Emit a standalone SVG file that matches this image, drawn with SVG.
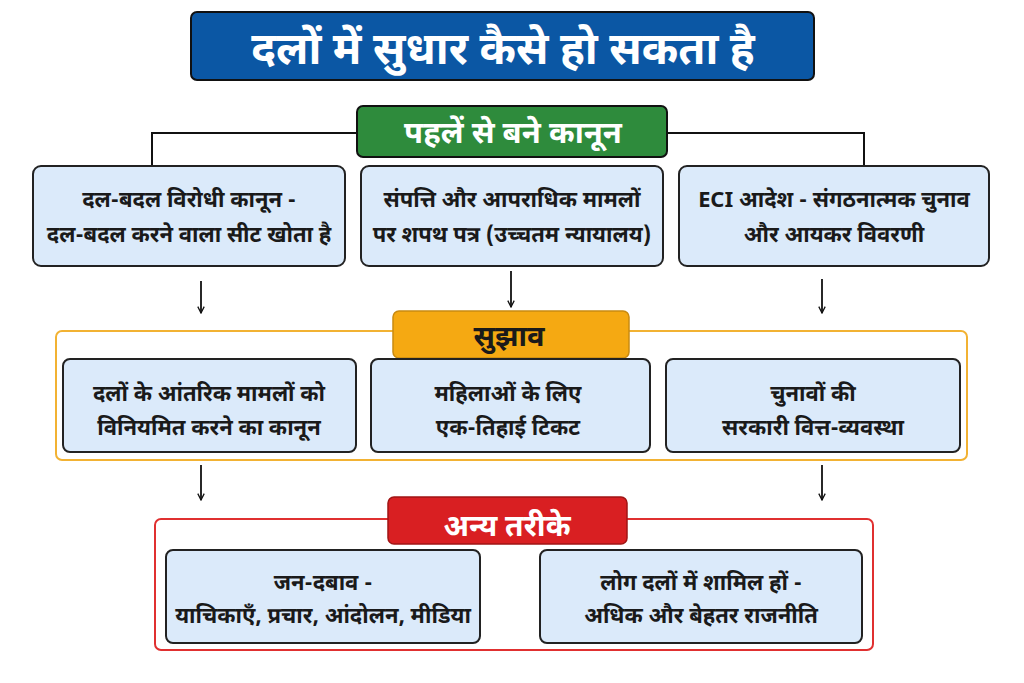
<svg xmlns="http://www.w3.org/2000/svg" width="1024" height="683" viewBox="0 0 1024 683">
<defs>
<marker id="arr" viewBox="0 0 10 10" refX="9" refY="5" markerWidth="8" markerHeight="8" orient="auto" markerUnits="userSpaceOnUse">
<path d="M1,1 L9,5 L1,9" fill="none" stroke="#111" stroke-width="1.6"/>
</marker>
<style>
text{font-family:"Noto Sans Devanagari","Noto Sans","Lohit Devanagari","Liberation Sans",sans-serif;text-anchor:middle;font-weight:bold}
.box{fill:#dbeafa;stroke:#222;stroke-width:2}
.bt{font-size:22px;fill:#1a1a1a}
.conn{stroke:#111;stroke-width:2;fill:none}
.arr{stroke:#111;stroke-width:1.8;fill:none;marker-end:url(#arr)}
</style>
</defs>
<rect width="1024" height="683" fill="#fff"/>
<g id="connectors">
<polyline class="conn" points="358,133 152,133 152,166"/>
<polyline class="conn" points="666,133 864,133 864,166"/>
<line class="arr" x1="201" y1="281" x2="201" y2="313"/>
<line class="arr" x1="511" y1="271" x2="511" y2="307"/>
<line class="arr" x1="822" y1="279" x2="822" y2="313"/>
<line class="arr" x1="201" y1="465" x2="201" y2="500"/>
<line class="arr" x1="822" y1="465" x2="822" y2="500"/>
</g>
<g id="title">
<rect x="191" y="12" width="623" height="68" rx="6" fill="#0b57a4" stroke="#111" stroke-width="2"/>
<text x="503" y="64" font-size="44" fill="#fff">दलों में सुधार कैसे हो सकता है</text>
</g>
<g id="existing-laws">
<rect x="357" y="106" width="310" height="51" rx="6" fill="#2e8b3c" stroke="#111" stroke-width="2"/>
<text x="513" y="143" font-size="31" fill="#fff">पहलें से बने कानून</text>
</g>
<g id="law1">
<rect class="box" x="33" y="166" width="312" height="100" rx="8"/>
<text class="bt" x="189" y="207">दल-बदल विरोधी कानून -</text>
<text class="bt" x="189" y="242">दल-बदल करने वाला सीट खोता है</text>
</g>
<g id="law2">
<rect class="box" x="361" y="166" width="302" height="100" rx="8"/>
<text class="bt" x="512" y="207">संपत्ति और आपराधिक मामलों</text>
<text class="bt" x="512" y="242">पर शपथ पत्र (उच्चतम न्यायालय)</text>
</g>
<g id="law3">
<rect class="box" x="679" y="166" width="310" height="100" rx="8"/>
<text class="bt" x="834" y="207">ECI आदेश - संगठनात्मक चुनाव</text>
<text class="bt" x="834" y="242">और आयकर विवरणी</text>
</g>
<g id="suggestions">
<rect x="56" y="331" width="911" height="129" rx="6" fill="none" stroke="#f2b233" stroke-width="2"/>
<rect x="393" y="311" width="236" height="47" rx="6" fill="#f5a912" stroke="#c98a10" stroke-width="1.5"/>
<text x="509" y="346" font-size="29" fill="#1a1a1a">सुझाव</text>
</g>
<g id="sug1">
<rect class="box" x="63" y="359" width="293" height="93" rx="7"/>
<text class="bt" x="209" y="401">दलों के आंतरिक मामलों को</text>
<text class="bt" x="209" y="435">विनियमित करने का कानून</text>
</g>
<g id="sug2">
<rect class="box" x="371" y="359" width="279" height="93" rx="7"/>
<text class="bt" x="508" y="401">महिलाओं के लिए</text>
<text class="bt" x="508" y="435">एक-तिहाई टिकट</text>
</g>
<g id="sug3">
<rect class="box" x="666" y="359" width="294" height="93" rx="7"/>
<text class="bt" x="813" y="401">चुनावों की</text>
<text class="bt" x="813" y="435">सरकारी वित्त-व्यवस्था</text>
</g>
<g id="other-ways">
<rect x="155" y="519" width="718" height="131" rx="6" fill="none" stroke="#e03030" stroke-width="2"/>
<rect x="388" y="497" width="239" height="47" rx="6" fill="#d91f22" stroke="#a01515" stroke-width="1.5"/>
<text x="507" y="536" font-size="30" fill="#fff">अन्य तरीके</text>
</g>
<g id="other1">
<rect class="box" x="166" y="550" width="314" height="93" rx="7"/>
<text class="bt" x="323" y="590">जन-दबाव -</text>
<text class="bt" x="323" y="623">याचिकाएँ, प्रचार, आंदोलन, मीडिया</text>
</g>
<g id="other2">
<rect class="box" x="540" y="550" width="322" height="93" rx="7"/>
<text class="bt" x="701" y="590">लोग दलों में शामिल हों -</text>
<text class="bt" x="701" y="623">अधिक और बेहतर राजनीति</text>
</g>
</svg>
